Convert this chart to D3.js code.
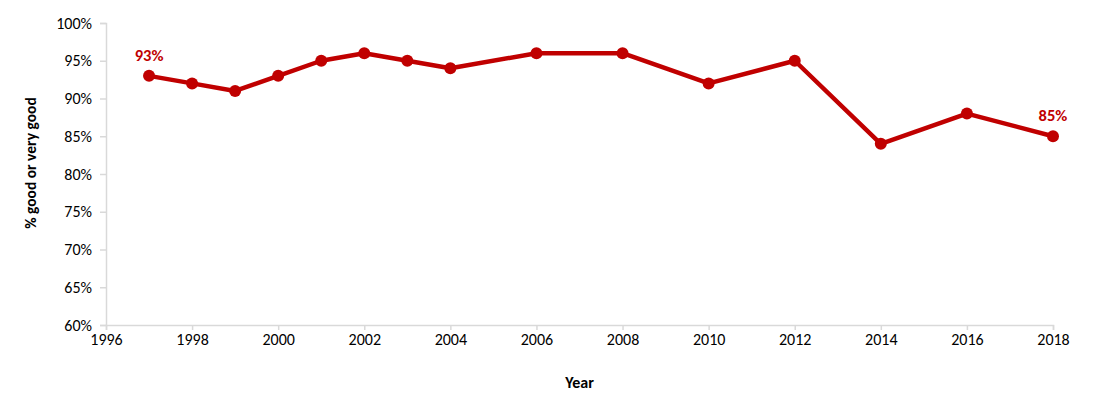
<!DOCTYPE html>
<html lang="en">
<head>
<meta charset="UTF-8">
<title>% good or very good</title>
<script src="https://d3js.org/d3.v7.min.js"></script>
<style>
  body { margin: 0; background: #fff; }
  svg text { font-family: Carlito, Lato, "Open Sans", sans-serif; fill: #000; }
</style>
</head>
<body>
<svg width="1093" height="409"></svg>
<script>
// data
const years = [1997, 1998, 1999, 2000, 2001, 2002, 2003, 2004, 2006, 2008, 2010, 2012, 2014, 2016, 2018];
const values = [93, 92, 91, 93, 95, 96, 95, 94, 96, 96, 92, 95, 84, 88, 85];
const xTicks = [1996, 1998, 2000, 2002, 2004, 2006, 2008, 2010, 2012, 2014, 2016, 2018];
const yTicks = [60, 65, 70, 75, 80, 85, 90, 95, 100];
const labelled = [1997, 2018];

const margin = { top: 23, right: 40, bottom: 84, left: 106 };
const width = 1093 - margin.left - margin.right;
const height = 409 - margin.top - margin.bottom;

const svg = d3.select("svg")
  .append("g")
  .attr("transform", `translate(${margin.left},${margin.top})`);

const x = d3.scaleLinear().domain([1996, 2018]).range([0, width]);
const y = d3.scaleLinear().domain([60, 100]).range([height, 0]);

const axisColor = "#d9d9d9";
const red = "#c00000";

// y axis
const yAxis = svg.append("g")
  .call(d3.axisLeft(y).tickValues(yTicks).tickFormat(d => d + "%").tickSize(6).tickPadding(8));
yAxis.selectAll("text").style("font-size", "16px");

// x axis
const xAxis = svg.append("g")
  .attr("transform", `translate(0,${height})`)
  .call(d3.axisBottom(x).tickValues(xTicks).tickFormat(d3.format("d")).tickSize(5).tickPadding(4));
xAxis.selectAll("text").style("font-size", "16px");

svg.selectAll(".domain, .tick line").attr("stroke", axisColor).attr("stroke-width", 1.5);

// axis titles
svg.append("text")
  .attr("transform", "rotate(-90)")
  .attr("x", -140)
  .attr("y", -70)
  .attr("text-anchor", "middle")
  .style("font-size", "15.5px")
  .style("font-weight", "bold")
  .text("% good or very good");

svg.append("text")
  .attr("x", x(2007))
  .attr("y", height + 63)
  .attr("text-anchor", "middle")
  .style("font-size", "16px")
  .style("font-weight", "bold")
  .text("Year");

const pts = years.map((yr, i) => ({ year: yr, value: values[i] }));

svg.append("path")
  .datum(pts)
  .attr("fill", "none")
  .attr("stroke", red)
  .attr("stroke-width", 4.5)
  .attr("stroke-linejoin", "round")
  .attr("d", d3.line().x(d => x(d.year)).y(d => y(d.value)));

svg.selectAll(".dot")
  .data(pts)
  .enter().append("circle")
  .attr("class", "dot")
  .attr("cx", d => x(d.year))
  .attr("cy", d => y(d.value))
  .attr("r", 6)
  .attr("fill", red);

svg.selectAll(".lbl")
  .data(pts.filter(d => labelled.includes(d.year)))
  .enter().append("text")
  .attr("class", "lbl")
  .attr("x", d => x(d.year))
  .attr("y", d => y(d.value) - 15)
  .attr("text-anchor", "middle")
  .style("font-size", "16.5px")
  .style("font-weight", "bold")
  .style("fill", red)
  .text(d => d.value + "%");
</script>
</body>
</html>
